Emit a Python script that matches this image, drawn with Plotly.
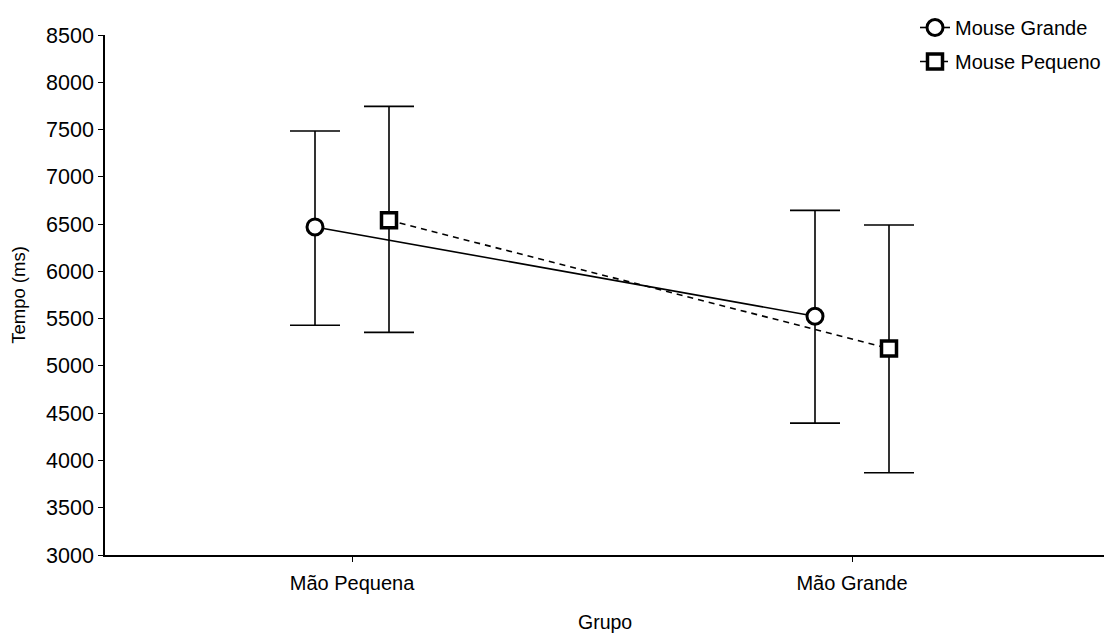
import plotly.graph_objects as go

categories = ["Mão Pequena", "Mão Grande"]
series_names = ["Mouse Grande", "Mouse Pequeno"]
x_title = "Grupo"
y_title = "Tempo (ms)"
mg_mean = [6470, 5525]
mg_upper = [7485, 6645]
mg_lower = [5430, 4395]
mp_mean = [6540, 5185]
mp_upper = [7745, 6490]
mp_lower = [5355, 3870]
y_ticks = [3000, 3500, 4000, 4500, 5000, 5500, 6000, 6500, 7000, 7500, 8000, 8500]

OFFSET = 0.074
cat_pos = list(range(len(categories)))
font_family = "Liberation Sans, Arial, sans-serif"

# page body has an 8px margin, so the figure is sized to fit inside the window
W, H = 1096, 628
L, B = 97, 81
PLOT_TOP = 27
plot_h = H - B

fig = go.Figure()

def add_series(name, group, mean, upper, lower, shift, symbol, dash, msize, mline):
    xs = [p + shift for p in cat_pos]
    fig.add_trace(go.Scatter(
        x=xs, y=mean, name=name, legendgroup=group, mode="lines+markers",
        line=dict(color="black", width=1.6, dash=dash),
        marker=dict(symbol=symbol, size=msize, color="white",
                    line=dict(color="black", width=mline)),
        error_y=dict(type="data", symmetric=False,
                     array=[u - m for u, m in zip(upper, mean)],
                     arrayminus=[m - l for m, l in zip(mean, lower)],
                     color="black", thickness=1.6, width=25),
    ))

add_series(series_names[0], "g1", mg_mean, mg_upper, mg_lower, -OFFSET, "circle", "solid", 16, 3)
add_series(series_names[1], "g2", mp_mean, mp_upper, mp_lower, OFFSET, "square", "6px,5px", 15, 3.5)

fig.add_annotation(text=x_title, xref="paper", yref="paper", x=0.5, y=-(614 - plot_h) / plot_h,
                   xanchor="center", yanchor="middle", showarrow=False,
                   font=dict(family=font_family, size=19.5, color="black"))

fig.update_layout(
    width=W, height=H,
    margin=dict(l=L, r=0, t=0, b=B, autoexpand=False),
    paper_bgcolor="white", plot_bgcolor="white",
    showlegend=True,
    legend=dict(x=(907 - L) / (W - L), xanchor="left", y=1.0, yanchor="top",
                font=dict(family=font_family, size=20, color="black"),
                bgcolor="rgba(0,0,0,0)", tracegroupgap=5, itemwidth=30),
    xaxis=dict(range=[-0.494, 1.504], tickvals=cat_pos, ticktext=categories,
               automargin=False,
               showgrid=False, zeroline=False, showline=True, linecolor="black",
               linewidth=1.6, ticks="outside", ticklen=5, tickcolor="black",
               ticklabelstandoff=4,
               tickfont=dict(family=font_family, size=20, color="black")),
    yaxis=dict(range=[3000, 8500], tickvals=y_ticks, domain=[0, (plot_h - PLOT_TOP) / plot_h],
               automargin=False,
               showgrid=False, zeroline=False, showline=True, linecolor="black",
               linewidth=1.6, ticks="outside", ticklen=5, tickcolor="black",
               tickfont=dict(family=font_family, size=21.5, color="black"),
               title=dict(text=y_title, font=dict(family=font_family, size=18.5, color="black"),
                          standoff=17)),
)

fig.write_html("out.html")
